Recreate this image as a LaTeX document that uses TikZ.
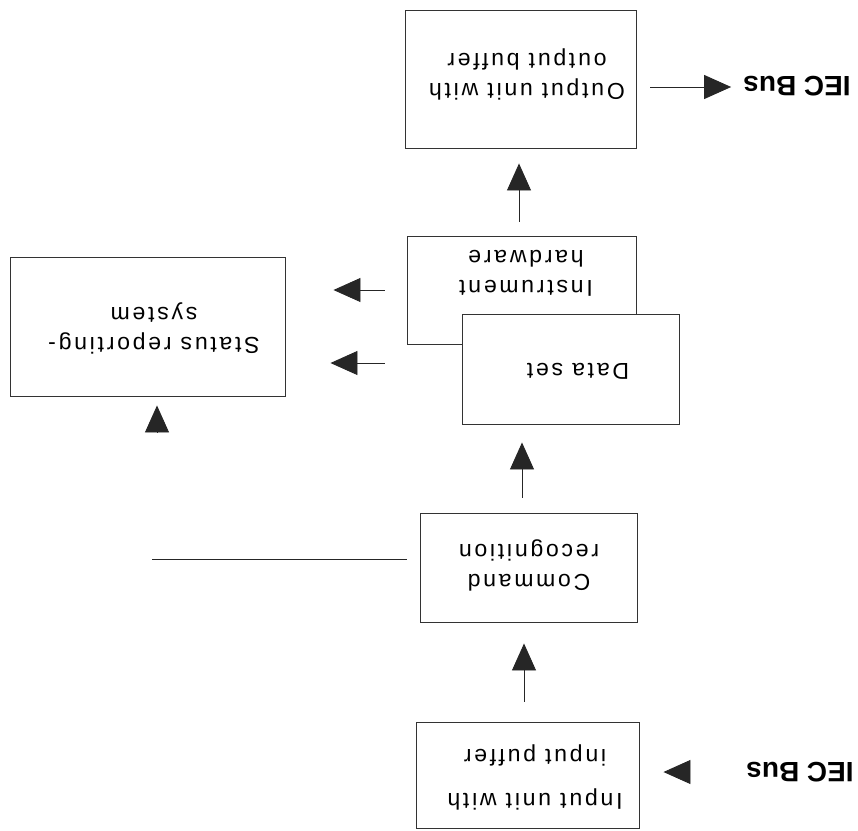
\documentclass[tikz,border=0pt]{standalone}
\usepackage{fontspec}
\setmainfont{Liberation Sans}
\newfontfamily\boxfont[LetterSpace=12]{Liberation Sans}
\usepackage{graphicx}
\usetikzlibrary{arrows.meta}
\newcommand{\flipt}[1]{\rotatebox[origin=c]{180}{\begin{tabular}{@{}c@{}}#1\end{tabular}}}
\begin{document}
\begin{tikzpicture}[x=1pt,y=-1pt,
  box/.style={draw=black!80, line width=0.9pt, fill=white, inner sep=0pt, rectangle},
  txt/.style={inner sep=0pt, font=\boxfont\fontsize{23}{30}\selectfont},
  bus/.style={inner sep=0pt, font=\fontsize{28}{32}\selectfont\bfseries},
  conn/.style={draw=black!85, line width=0.9pt},
  arr/.style={conn, -{Triangle[length=27pt,width=24pt]}}]
\useasboundingbox (0,0) rectangle (858,830);

% boxes
\node[box, minimum width=231pt, minimum height=138pt] (out)  at (520.5,79) {};
\node[box, minimum width=229pt, minimum height=108pt] (inst) at (521.5,290) {};
\node[box, minimum width=217pt, minimum height=110pt] (data) at (570.5,369) {};
\node[box, minimum width=275pt, minimum height=139pt] (stat) at (147.5,326.5) {};
\node[box, minimum width=217pt, minimum height=109pt] (cmd)  at (528.5,567.5) {};
\node[box, minimum width=223pt, minimum height=106pt] (in)   at (527.5,775) {};

% texts
\node[txt] (outt)  at (527,74)  {\flipt{Output unit with\\output buffer}};
\node[txt] (instt) at (526,271) {\flipt{Instrument\\hardware}};
\node[txt] (datat) at (578,369) {\flipt{Data set}};
\node[txt] (statt) at (154,328) {\flipt{Status reporting-\\system}};
\node[txt] (cmdt)  at (529,565) {\flipt{Command\\recognition}};
\node[txt] (intx)  at (535,777) {\flipt{Input unit with\\[14pt]input puffer}};
\node[bus] (iec1) at (797,86)  {\rotatebox[origin=c]{180}{IEC Bus}};
\node[bus] (iec2) at (800,772) {\rotatebox[origin=c]{180}{IEC Bus}};

% helper coordinates
\coordinate (xa) at (524,0);
\coordinate (xb) at (522,0);
\coordinate (xc) at (519,0);
\coordinate (ya) at (0,290);
\coordinate (yb) at (0,363);
\coordinate (yc) at (0,87);
\coordinate (yd) at (0,772);
\coordinate (c1) at (152,559);
\coordinate (c2) at (157,432);

% connectors
\draw[arr, shorten <=20pt, shorten >=21pt] (in.north -| xa) -- (cmd.south -| xa);
\draw[arr, shorten <=15pt, shorten >=18pt] (cmd.north -| xb) -- (data.south -| xb);
\draw[arr, shorten <=14pt, shorten >=15pt] (inst.north -| xc) -- (out.south -| xc);
\draw[arr, shorten <=22pt, shorten >=48pt] (inst.west |- ya) -- (stat.east |- ya);
\draw[arr, shorten <=77pt, shorten >=45pt] (data.west |- yb) -- (stat.east |- yb);
\draw[arr, shorten <=14pt, shorten >=12pt] (out.east |- yc) -- (iec1.west |- yc);
\draw[arr, shorten <=57pt, shorten >=24pt] (iec2.west |- yd) -- (in.east |- yd);
\draw[conn, shorten <=13pt] (cmd.west |- c1) -- (c1);
\draw[arr, shorten >=9pt] (c2) -- (c2 |- stat.south);
\end{tikzpicture}
\end{document}
